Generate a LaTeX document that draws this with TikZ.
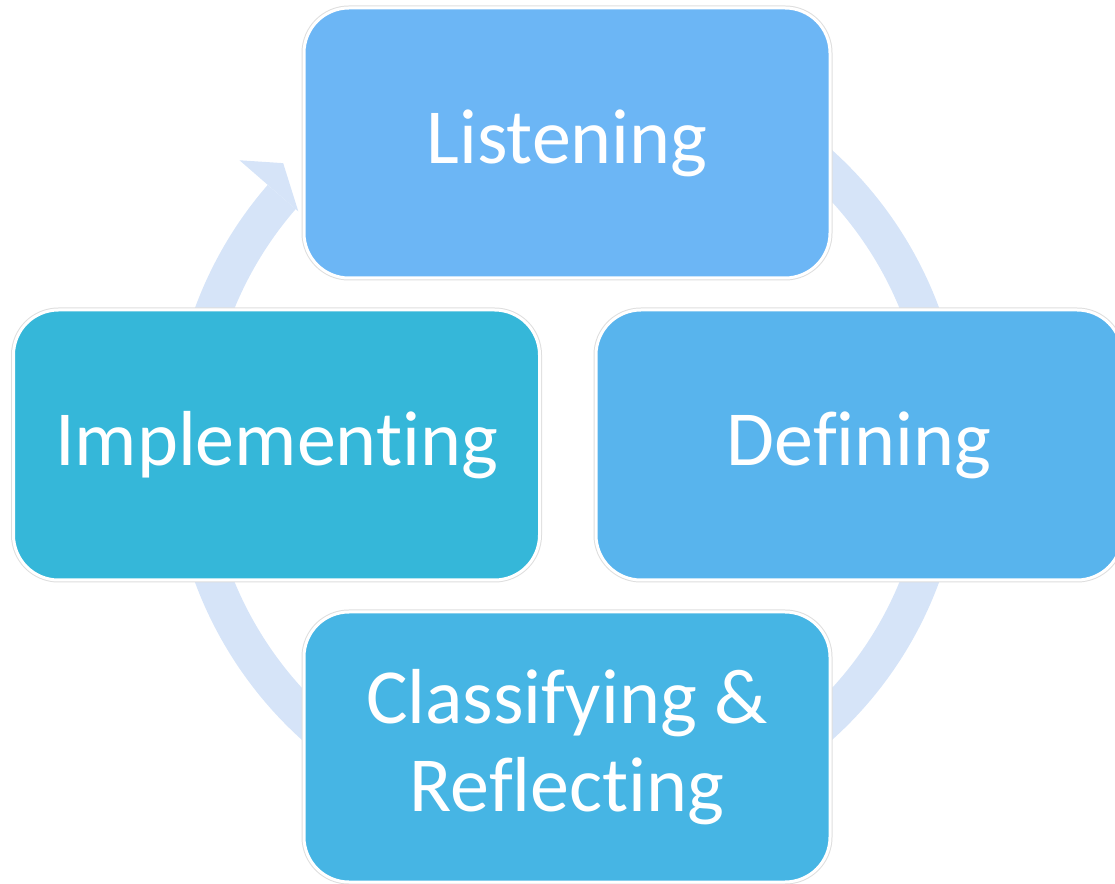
\documentclass[tikz,border=0pt]{standalone}
\usepackage{fontspec}
\setmainfont{Carlito}[RawFeature={-liga;-clig;-dlig}]
\definecolor{ringc}{RGB}{214,228,248}
\definecolor{cListen}{RGB}{108,182,245}
\definecolor{cDefine}{RGB}{88,180,237}
\definecolor{cClass}{RGB}{70,181,228}
\definecolor{cImpl}{RGB}{53,183,217}
\definecolor{edgec}{RGB}{222,222,222}
\begin{document}
\begin{tikzpicture}[x=1pt,y=1pt,
  stagebox/.style={rounded corners=45pt, minimum width=526pt, minimum height=270pt,
    inner sep=0pt, draw=white, line width=3pt, text=white,
    preaction={draw=edgec, line width=5pt},
    font=\fontsize{78}{88}\selectfont, align=center}]
\useasboundingbox (0,0) rectangle (1115,883);
\clip (0,0) rectangle (1115,883);
\coordinate (c) at (567,438);
% circular arrow
\draw[ringc, line width=37pt] ([shift={(80:378)}]c) arc[start angle=80, end angle=-221, radius=378];
\fill[ringc] ([shift={(139:434)}]c) -- ([shift={(135.2:400)}]c) -- ([shift={(139:356)}]c) -- cycle;
% boxes
\node[stagebox, fill=cListen] (listen) at (567,740) {Listening};
\node[stagebox, fill=cDefine] (define) at (859,438) {Defining};
\node[stagebox, fill=cImpl] (impl) at (276.5,438) {Implementing};
\node[stagebox, fill=cClass] (class) at (567,136) {Classifying \&\\Reflecting};
\end{tikzpicture}
\end{document}
